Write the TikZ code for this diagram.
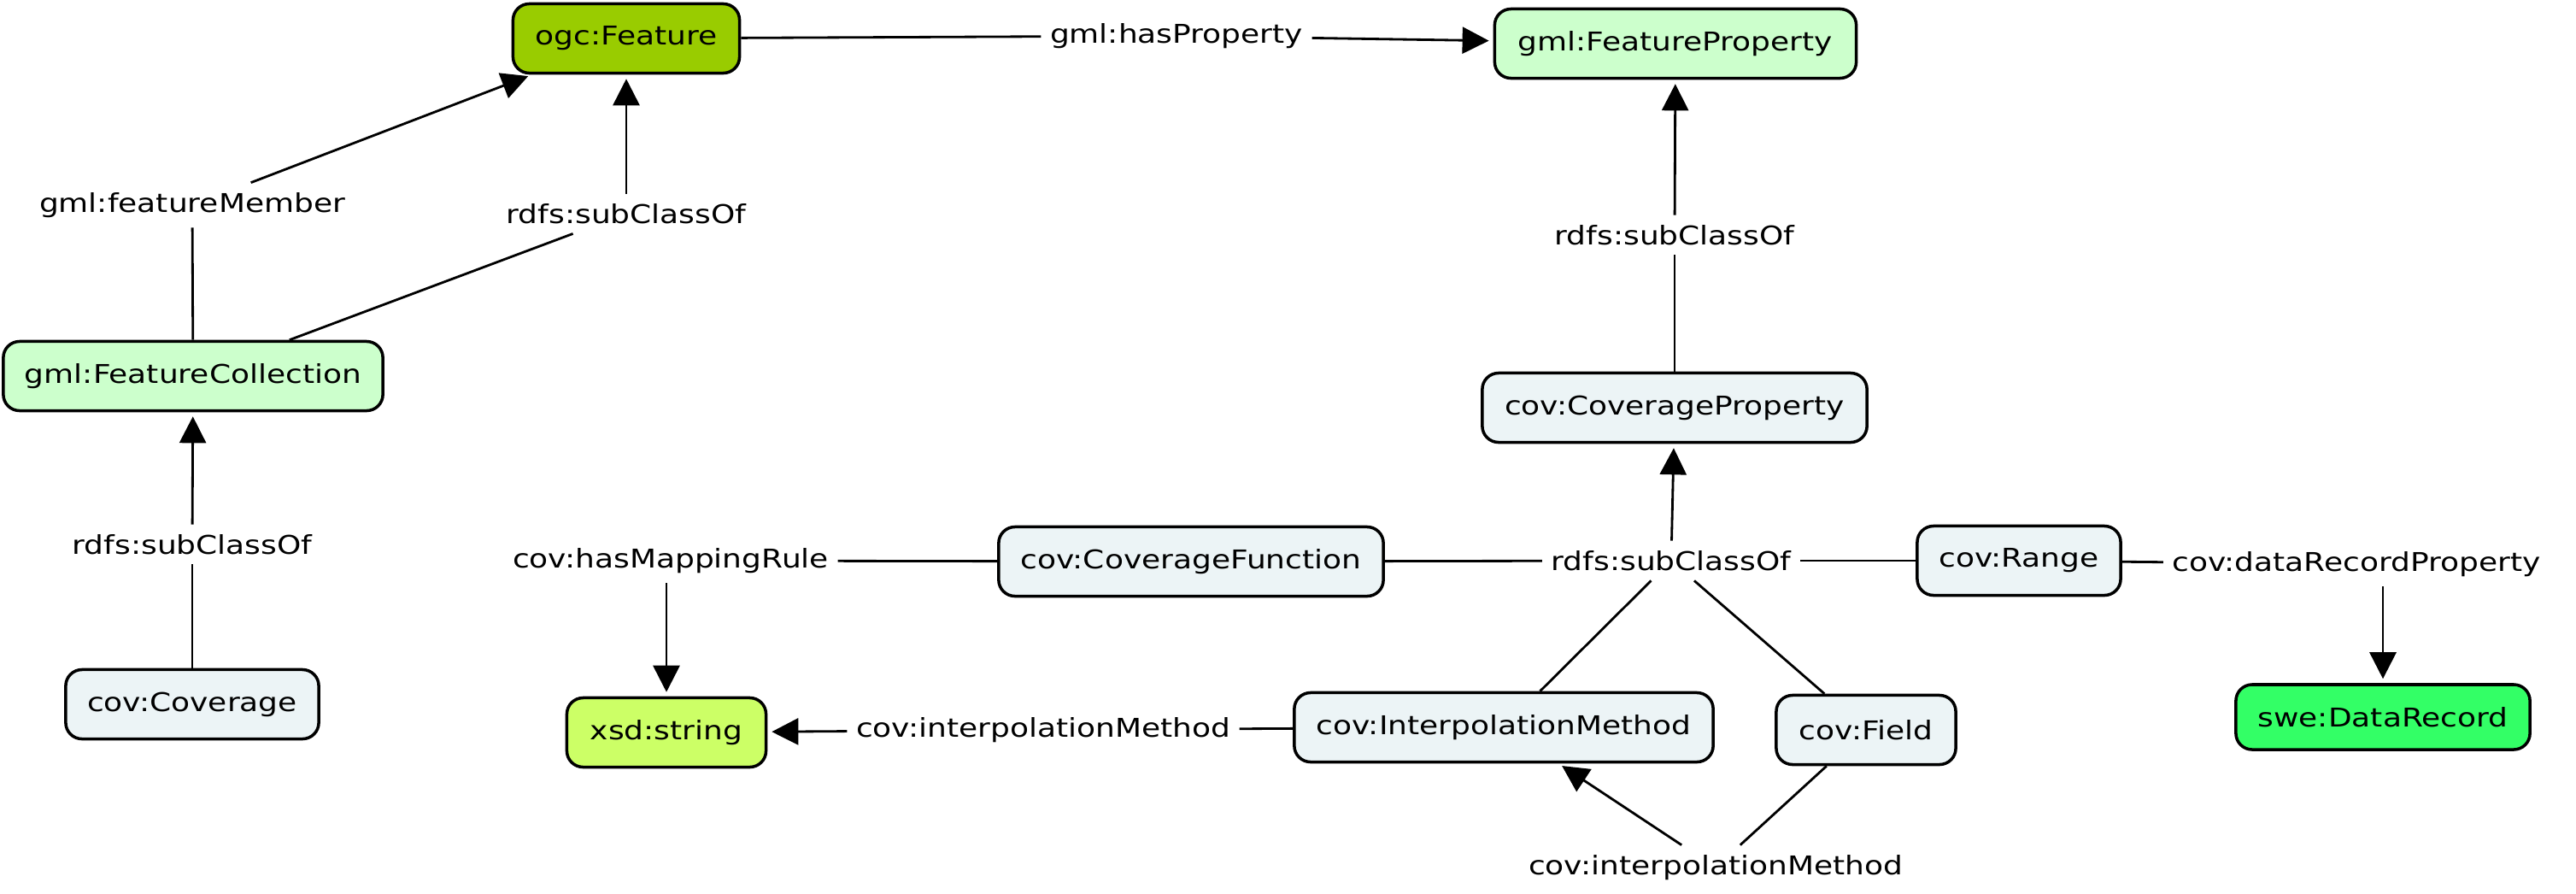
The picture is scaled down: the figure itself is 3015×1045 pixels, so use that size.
\documentclass[tikz,border=0pt]{standalone}
\usepackage{fontspec}
\setmainfont{DejaVu Sans}[FakeStretch=1.19]
\usetikzlibrary{arrows.meta}
\definecolor{featgreen}{HTML}{99CC00}
\definecolor{palegreen}{HTML}{CCFFCC}
\definecolor{covgrey}{HTML}{ECF4F6}
\definecolor{xsdgreen}{HTML}{CCFF66}
\definecolor{swegreen}{HTML}{33FF66}
\tikzset{
  cls/.style={draw=black, line width=1pt, rounded corners=0.19cm, inner sep=0pt,
    font=\fontsize{8.6}{10.5}\selectfont, minimum height=0.81cm},
  lbl/.style={inner xsep=0.1cm, inner ysep=0.11cm, font=\fontsize{8.6}{10.5}\selectfont},
  conn/.style={line width=0.8pt},
  arr/.style={line width=0.8pt, -{Triangle[length=0.31cm,width=0.31cm]}, shorten >=0.05cm}
}
\begin{document}
\begin{tikzpicture}[x=0.01cm,y=-0.01cm]
\useasboundingbox (0,0) rectangle (3015,1045);
% classes
\node[cls, fill=featgreen, minimum width=2.65cm] (feat) at (733,45) {ogc:Feature};
\node[cls, fill=palegreen, minimum width=4.23cm] (fp) at (1961,51) {gml:FeatureProperty};
\node[cls, fill=palegreen, minimum width=4.44cm] (fc) at (226,440) {gml:FeatureCollection};
\node[cls, fill=covgrey, minimum width=2.96cm] (cov) at (225,824) {cov:Coverage};
\node[cls, fill=covgrey, minimum width=4.50cm] (cp) at (1960,477) {cov:CoverageProperty};
\node[cls, fill=covgrey, minimum width=4.50cm] (cf) at (1394,657) {cov:CoverageFunction};
\node[cls, fill=covgrey, minimum width=2.38cm] (rng) at (2363,656) {cov:Range};
\node[cls, fill=xsdgreen, minimum width=2.33cm] (xsd) at (780,857) {xsd:string};
\node[cls, fill=covgrey, minimum width=4.90cm] (im) at (1760,851) {cov:InterpolationMethod};
\node[cls, fill=covgrey, minimum width=2.10cm] (fld) at (2184,854) {cov:Field};
\node[cls, fill=swegreen, minimum width=3.44cm, minimum height=0.76cm] (dr) at (2789,839) {swe:DataRecord};
% property labels
\node[lbl] (hp) at (1377,42) {gml:hasProperty};
\node[lbl] (fm) at (225,240) {gml:featureMember};
\node[lbl] (sc1) at (733,250) {rdfs:subClassOf};
\node[lbl] (sc2) at (1960,275) {rdfs:subClassOf};
\node[lbl] (sc4) at (225,637) {rdfs:subClassOf};
\node[lbl] (hmr) at (785,656) {cov:hasMappingRule};
\node[lbl] (sc3) at (1956,656) {rdfs:subClassOf};
\node[lbl] (drp) at (2758,660) {cov:dataRecordProperty};
\node[lbl] (im1) at (1221,854) {cov:interpolationMethod};
\node[lbl] (im2) at (2008,1015) {cov:interpolationMethod};
% connectors
\draw[conn] (feat) -- (hp);
\draw[arr] (hp) -- (fp);
\draw[conn] (fc) -- (fm);
\draw[arr] (fm) -- (feat);
\draw[conn] (fc) -- (sc1);
\draw[arr] (sc1) -- (feat);
\draw[conn] (cp) -- (sc2);
\draw[arr] (sc2) -- (fp);
\draw[conn] (cov) -- (sc4);
\draw[arr] (sc4) -- (fc);
\draw[conn] (cf) -- (hmr);
\draw[arr] (hmr.south -| xsd.north) -- (xsd.north);
\draw[conn] (cf) -- (sc3);
\draw[conn] (sc3) -- (rng);
\draw[arr] (sc3) -- (cp);
\draw[conn] (sc3) -- (im);
\draw[conn] (sc3) -- (fld);
\draw[conn] (rng) -- (drp);
\draw[arr] (drp.south -| dr.north) -- (dr.north);
\draw[conn] (im) -- (im1);
\draw[arr] (im1) -- (xsd);
\draw[arr] (im2) -- (im);
\draw[conn] (im2) -- (fld);
\end{tikzpicture}
\end{document}
